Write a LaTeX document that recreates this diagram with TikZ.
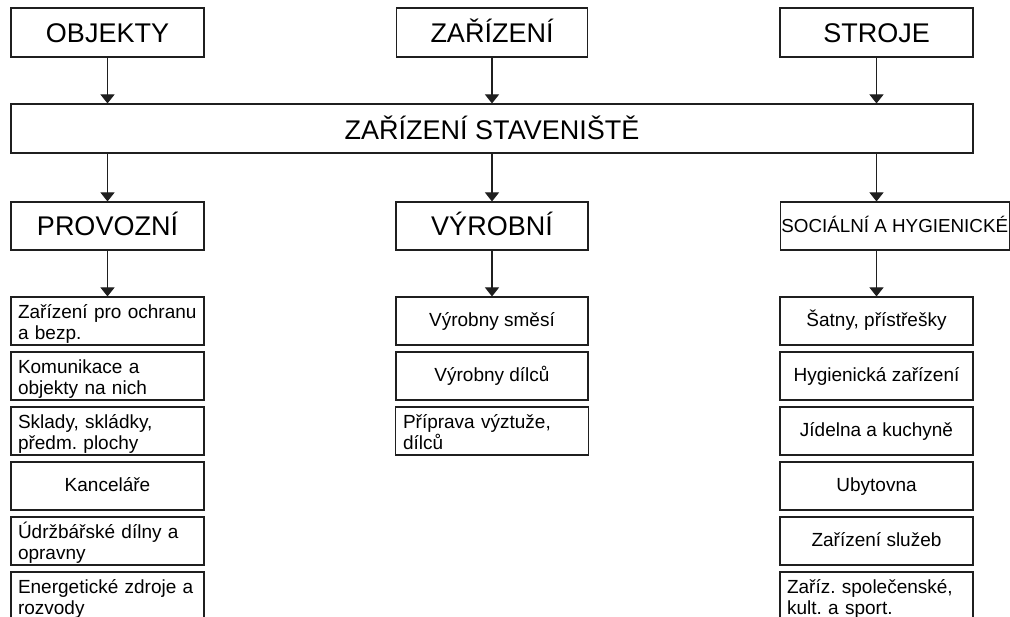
\documentclass[tikz,border=0pt]{standalone}
\usepackage{fontspec}
\setmainfont{Liberation Sans}
\usetikzlibrary{arrows.meta}
\frenchspacing

\tikzset{
  box/.style={draw=black!88, line width=1.1pt, inner sep=0pt, fill=white},
  head/.style={box, minimum width=193pt, minimum height=49pt,
    text height=20.5pt, text depth=0pt,
    font=\fontsize{27}{32}\selectfont},
  wide/.style={head, minimum width=962pt},
  group/.style={head, minimum height=48pt, text height=19pt},
  item/.style={box, minimum width=193pt, minimum height=48pt,
    text height=11.5pt, text depth=0pt,
    font=\fontsize{19}{21}\selectfont},
  itemtwo/.style={box, minimum width=193pt, minimum height=48pt,
    text height=20pt, text depth=25pt,
    font=\fontsize{19}{21}\selectfont,
    text width=179pt, inner xsep=7pt, align=left},
  link/.style={draw=black!88, line width=1.1pt,
    -{Triangle[width=14pt,length=9pt]}}
}

\begin{document}
\begin{tikzpicture}[x=1pt,y=-1pt]
\useasboundingbox (0,0) rectangle (1010,617);
\clip (0,0) rectangle (1010,617);
\fill[white] (0,0) rectangle (1010,617);

% top row: sources
\node[head] (obj) at (107.5,32.5) {OBJEKTY};
\node[head, minimum width=191pt] (zar) at (492,32.5) {ZAŘÍZENÍ};
\node[head] (str) at (876.5,32.5) {STROJE};

% central box
\node[wide, text height=21.5pt] (site) at (492,128.5) {ZAŘÍZENÍ STAVENIŠTĚ};

% second row: groups
\node[group] (prov) at (107.5,226) {PROVOZNÍ};
\node[group, minimum width=192pt] (vyr) at (492,226) {VÝROBNÍ};
\node[group, minimum width=229pt, text height=14pt,
      font=\fontsize{18.8}{22}\selectfont] (soc) at (894.75,226) {SOCIÁLNÍ A HYGIENICKÉ};

% left column items
\node[itemtwo] (p1) at (107.5,321) {Zařízení pro ochranu\\a bezp.};
\node[itemtwo] (p2) at (107.5,376) {Komunikace a\\objekty na nich};
\node[itemtwo] (p3) at (107.5,431) {Sklady, skládky,\\předm. plochy};
\node[item]    (p4) at (107.5,486) {Kanceláře};
\node[itemtwo] (p5) at (107.5,541) {Údržbářské dílny a\\opravny};
\node[itemtwo] (p6) at (107.5,596) {Energetické zdroje a\\rozvody};

% middle column items
\node[item, minimum width=192pt] (v1) at (492,321) {Výrobny směsí};
\node[item, minimum width=192pt] (v2) at (492,376) {Výrobny dílců};
\node[itemtwo, text width=178pt] (v3) at (492,431) {Příprava výztuže,\\dílců};

% right column items
\node[item] (s1) at (876.5,321) {Šatny, přístřešky};
\node[item] (s2) at (876.5,376) {Hygienická zařízení};
\node[item] (s3) at (876.5,431) {Jídelna a kuchyně};
\node[item] (s4) at (876.5,486) {Ubytovna};
\node[item] (s5) at (876.5,541) {Zařízení služeb};
\node[itemtwo] (s6) at (876.5,596) {Zaříz. společenské,\\kult. a sport.};

% connectors
\draw[link] (obj.south) -- (obj.south |- site.north);
\draw[link] (zar.south) -- (zar.south |- site.north);
\draw[link] (str.south) -- (str.south |- site.north);
\draw[link] (obj.south |- site.south) -- (prov.north);
\draw[link] (zar.south |- site.south) -- (vyr.north);
\draw[link] (str.south |- site.south) -- (str.south |- soc.north);
\draw[link] (prov.south) -- (p1.north);
\draw[link] (vyr.south) -- (v1.north);
\draw[link] (s1.north |- soc.south) -- (s1.north);
\end{tikzpicture}
\end{document}
